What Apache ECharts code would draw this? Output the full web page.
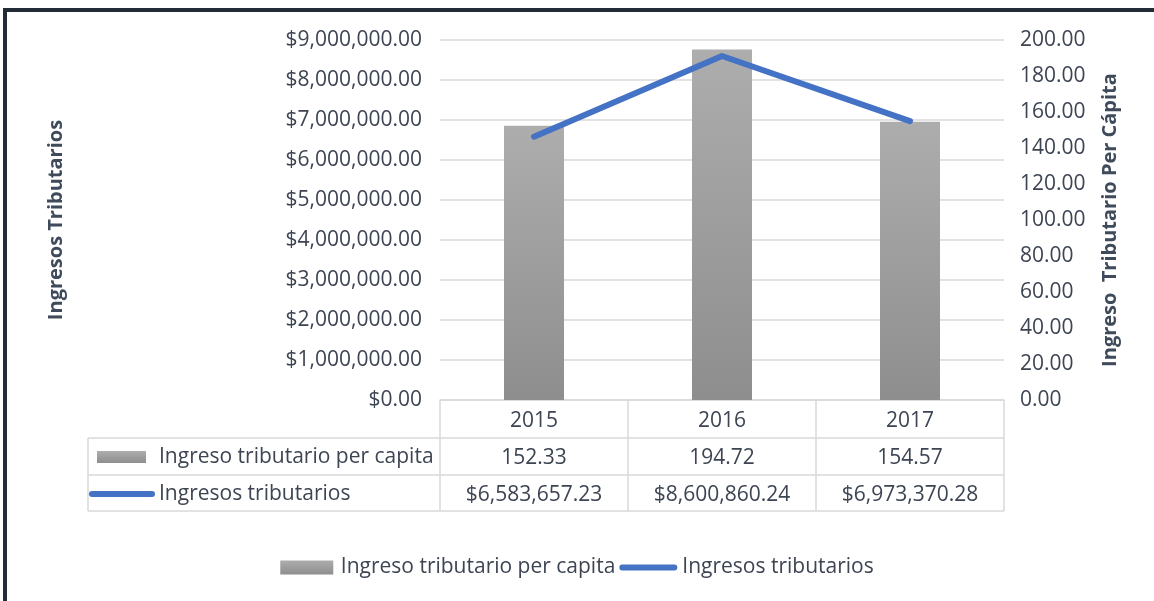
<!DOCTYPE html>
<html>
<head>
<meta charset="utf-8">
<script src="https://cdn.jsdelivr.net/npm/echarts@6/dist/echarts.min.js"></script>
<style>
  html, body { margin: 0; padding: 0; background: #fff; }
  #chart { width: 1154px; height: 601px; }
</style>
</head>
<body>
<div id="chart"></div>
<script>
const years = ['2015', '2016', '2017']
const perCapita = [152.33, 194.72, 154.57]
const ingresos = [6583657.23, 8600860.24, 6973370.28]

const barName = 'Ingreso tributario per capita'
const lineName = 'Ingresos tributarios'

const textColor = '#3d4553'
const titleColor = '#3f4b5b'
const gridColor = '#d9d9d9'
const blue = '#4472c4'
const font = '"Open Sans", sans-serif'
const fs = 21

const money = v => '$' + v.toLocaleString('en-US', { minimumFractionDigits: 2, maximumFractionDigits: 2 })

const grayFill = new echarts.graphic.LinearGradient(0, 0, 0, 1, [
  { offset: 0, color: '#adadad' },
  { offset: 1, color: '#8e8e8e' }
])

// layout of the data table under the plot
const gLeft = 440, gRight = 1004, gTop = 40, gBottom = 400
const tableLeft = 88
const rowY = [400, 438, 475, 511]
const colW = (gRight - gLeft) / years.length

const tableLines = []
rowY.slice(1).forEach(y => {
  tableLines.push({ type: 'line', shape: { x1: tableLeft, y1: y, x2: gRight, y2: y }, style: { stroke: gridColor, lineWidth: 1.5 } })
})
for (let i = 0; i <= years.length; i++) {
  const x = gLeft + colW * i
  tableLines.push({ type: 'line', shape: { x1: x, y1: rowY[0], x2: x, y2: rowY[3] }, style: { stroke: gridColor, lineWidth: 1.5 } })
}
tableLines.push({ type: 'line', shape: { x1: tableLeft, y1: rowY[1], x2: tableLeft, y2: rowY[3] }, style: { stroke: gridColor, lineWidth: 1.5 } })

const chart = echarts.init(document.getElementById('chart'))

chart.setOption({
  animation: false,
  textStyle: { fontFamily: font },
  grid: { left: gLeft, right: 1154 - gRight, top: gTop, bottom: 601 - gBottom },
  legend: {
    left: 'center',
    top: 552,
    itemWidth: 58,
    itemHeight: 14,
    itemGap: 4,
    symbolKeepAspect: true,
    textStyle: { color: textColor, fontSize: fs, fontFamily: font },
    data: [
      { name: barName, icon: 'path://M0,0 H53 V14 H0 Z' },
      { name: lineName, icon: 'path://M3,0 H57 A3,3 0 0 1 57,6 H3 A3,3 0 0 1 3,0 Z' }
    ]
  },
  xAxis: {
    type: 'category',
    data: years,
    axisLine: { lineStyle: { color: gridColor, width: 1.5 } },
    axisTick: { show: false },
    axisLabel: {
      interval: 0,
      margin: 3,
      color: textColor,
      formatter: (v, i) => `{t|${v}}\n{t|${perCapita[i].toFixed(2)}}\n{t|${money(ingresos[i])}}`,
      rich: { t: { fontSize: fs, lineHeight: 37, color: textColor, fontFamily: font } }
    }
  },
  yAxis: [
    {
      type: 'value',
      min: 0,
      max: 9000000,
      interval: 1000000,
      name: 'Ingresos Tributarios',
      nameLocation: 'middle',
      nameGap: 374,
      nameTextStyle: { color: titleColor, fontSize: 20, fontWeight: 'bold', fontFamily: font },
      axisLabel: { color: textColor, fontSize: fs, margin: 18, formatter: v => money(v) },
      splitLine: { lineStyle: { color: gridColor, width: 1.5 } }
    },
    {
      type: 'value',
      min: 0,
      max: 200,
      interval: 20,
      position: 'right',
      name: 'Ingreso  Tributario Per Cápita',
      nameLocation: 'middle',
      nameGap: 96,
      nameTextStyle: { color: titleColor, fontSize: 20, fontWeight: 'bold', fontFamily: font },
      axisLabel: { color: textColor, fontSize: fs, margin: 16, formatter: v => v.toFixed(2) },
      splitLine: { show: false }
    }
  ],
  series: [
    {
      name: barName,
      type: 'bar',
      yAxisIndex: 1,
      data: perCapita,
      barWidth: 60,
      itemStyle: { color: grayFill }
    },
    {
      name: lineName,
      type: 'line',
      yAxisIndex: 0,
      data: ingresos,
      symbol: 'none',
      lineStyle: { color: blue, width: 6, cap: 'round', join: 'round' },
      itemStyle: { color: blue }
    }
  ],
  graphic: [
    // frame
    { type: 'line', shape: { x1: 3, y1: 10, x2: 1154, y2: 10 }, style: { stroke: '#232b36', lineWidth: 4 } },
    { type: 'line', shape: { x1: 5, y1: 8, x2: 5, y2: 601 }, style: { stroke: '#232b36', lineWidth: 4 } },
    ...tableLines,
    { type: 'rect', shape: { x: 97, y: 451, width: 49, height: 12 }, style: { fill: grayFill } },
    { type: 'text', x: 159, y: 457, style: { text: barName, fill: textColor, font: `${fs}px ${font}`, verticalAlign: 'middle' } },
    { type: 'line', shape: { x1: 92, y1: 494, x2: 152, y2: 494 }, style: { stroke: blue, lineWidth: 6, lineCap: 'round' } },
    { type: 'text', x: 159, y: 494, style: { text: lineName, fill: textColor, font: `${fs}px ${font}`, verticalAlign: 'middle' } }
  ]
})
</script>
</body>
</html>
